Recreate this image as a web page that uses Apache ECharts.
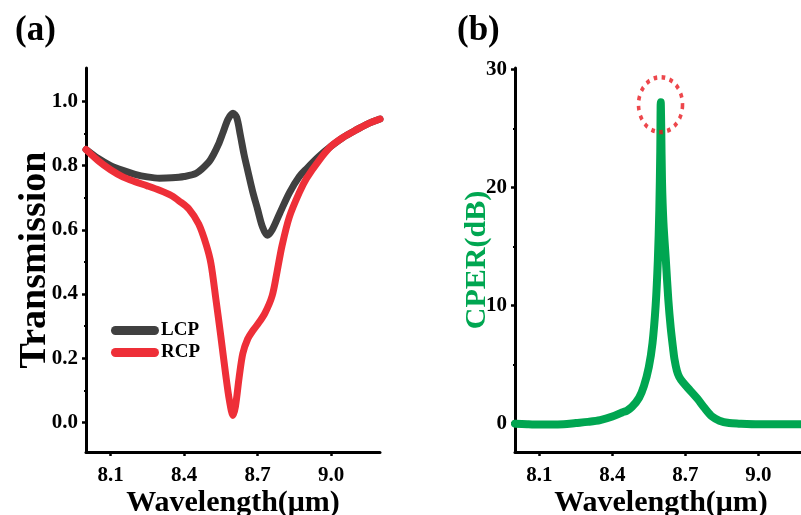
<!DOCTYPE html>
<html>
<head>
<meta charset="utf-8">
<script src="https://cdn.jsdelivr.net/npm/echarts@6/dist/echarts.min.js"></script>
<style>html,body{margin:0;padding:0;background:#fff}#c{width:801px;height:515px}</style>
</head>
<body>
<div id="c"></div>
<script>
// ---- data ----
const lcpWavelength = [8.00,8.05,8.10,8.15,8.20,8.25,8.30,8.35,8.40,8.45,8.50,8.52,8.54,8.56,8.58,8.60,8.615,8.63,8.645,8.66,8.68,8.70,8.72,8.74,8.76,8.79,8.83,8.87,8.90,8.95,9.00,9.05,9.10,9.15,9.20];
const lcpTransmission = [0.850,0.822,0.800,0.785,0.773,0.765,0.761,0.762,0.766,0.776,0.810,0.834,0.865,0.905,0.945,0.963,0.950,0.895,0.835,0.785,0.720,0.665,0.610,0.583,0.600,0.650,0.715,0.765,0.790,0.828,0.860,0.888,0.910,0.930,0.945];
const rcpWavelength = [8.00,8.05,8.10,8.15,8.20,8.25,8.30,8.35,8.38,8.42,8.46,8.49,8.51,8.53,8.55,8.57,8.585,8.60,8.61,8.625,8.64,8.66,8.68,8.70,8.73,8.76,8.78,8.80,8.83,8.87,8.90,8.95,9.00,9.05,9.10,9.15,9.20];
const rcpTransmission = [0.850,0.815,0.787,0.765,0.750,0.737,0.723,0.706,0.690,0.665,0.618,0.555,0.495,0.385,0.270,0.150,0.070,0.022,0.050,0.140,0.215,0.260,0.285,0.305,0.340,0.395,0.470,0.550,0.640,0.715,0.760,0.815,0.860,0.888,0.910,0.930,0.945];
const cperWavelength = [8.00,8.05,8.10,8.15,8.20,8.25,8.30,8.35,8.40,8.44,8.46,8.48,8.51,8.53,8.55,8.565,8.578,8.587,8.593,8.597,8.599,8.601,8.604,8.61,8.62,8.63,8.64,8.65,8.655,8.665,8.675,8.69,8.72,8.75,8.78,8.81,8.84,8.88,8.92,9.00,9.10,9.20];
const cperValue = [0.0,-0.05,-0.08,-0.08,-0.05,0.05,0.15,0.3,0.6,0.95,1.1,1.4,2.2,3.2,4.8,6.8,10.0,13.8,18.0,23.0,27.2,25.0,20.6,17.0,13.8,10.5,8.1,6.3,5.5,4.5,3.95,3.5,2.8,2.1,1.3,0.6,0.25,0.05,0.0,-0.05,-0.05,-0.05];
const peakMark = [[8.598, 27.0]];
const xTicks = [8.1, 8.4, 8.7, 9.0];
const xMinorTicks = [8.25, 8.55, 8.85, 9.15];
const transTicks = [0.0, 0.2, 0.4, 0.6, 0.8, 1.0];
const transMinorTicks = [0.1, 0.3, 0.5, 0.7, 0.9];
const cperTicks = [0, 10, 20, 30];
const cperMinorTicks = [5, 15, 25];
const seriesNames = ['LCP', 'RCP'];

// ---- chart ----
const pair = (xs, ys) => xs.map((x, i) => [x, ys[i]]);
const FONT = '"Liberation Serif", "Times New Roman", serif';
const labelStyle = {color:'#000', fontFamily:FONT, fontWeight:'bold', fontSize:21};
const nameStyle = {color:'#000', fontFamily:FONT, fontWeight:'bold', fontSize:30};

function mainX(grid) {
  return {type:'value', gridIndex:grid, min:8.0, max:9.2, position:'bottom',
    axisLine:{show:true, onZero:false, lineStyle:{color:'#000', width:3}},
    axisTick:{show:true, customValues:xTicks, length:4, lineStyle:{color:'#000', width:2.5}},
    axisLabel:Object.assign({customValues:xTicks, margin:13, formatter:v=>Number(v).toFixed(1)}, labelStyle),
    splitLine:{show:false},
    name:'Wavelength(μm)', nameLocation:'middle', nameGap:36, nameMoveOverlap:false, nameTextStyle:nameStyle};
}
function minorX(grid) {
  return {type:'value', gridIndex:grid, min:8.0, max:9.2, position:'bottom', offset:0,
    axisLine:{show:false, onZero:false}, axisLabel:{show:false}, splitLine:{show:false},
    axisTick:{show:true, customValues:xMinorTicks, length:2, lineStyle:{color:'#000', width:2}}};
}
const option = {
  animation:false,
  backgroundColor:'#fff',
  title:[
    {text:'(a)', left:10, top:8, textStyle:{fontFamily:FONT, fontWeight:'bold', fontSize:35, color:'#000'}},
    {text:'(b)', left:452, top:8, textStyle:{fontFamily:FONT, fontWeight:'bold', fontSize:35, color:'#000'}}
  ],
  grid:[
    {left:86, top:68, width:294, height:384, outerBoundsMode:'none', containLabel:false},
    {left:515, top:68, width:292, height:384, outerBoundsMode:'none', containLabel:false}
  ],
  legend:{
    data:seriesNames, orient:'vertical', left:106, top:316, itemGap:3,
    itemWidth:48, itemHeight:9,
    icon:'path://M4.5,0 H43.5 A4.5,4.5 0 0 1 43.5,9 H4.5 A4.5,4.5 0 0 1 4.5,0 Z',
    textStyle:{fontFamily:FONT, fontWeight:'bold', fontSize:19, color:'#000', padding:[0,0,0,-3]}
  },
  xAxis:[mainX(0), minorX(0), mainX(1), minorX(1)],
  yAxis:[
    {type:'value', gridIndex:0, min:-0.092, max:1.104, position:'left',
      axisLine:{show:true, onZero:false, lineStyle:{color:'#000', width:3}},
      axisTick:{show:true, customValues:transTicks, length:4, lineStyle:{color:'#000', width:2.5}},
      axisLabel:Object.assign({customValues:transTicks, margin:8, formatter:v=>Number(v).toFixed(1)}, labelStyle),
      splitLine:{show:false},
      name:'Transmission', nameLocation:'middle', nameGap:32, nameRotate:90, nameMoveOverlap:false,
      nameTextStyle:Object.assign({}, nameStyle, {fontSize:38})},
    {type:'value', gridIndex:0, min:-0.092, max:1.104, position:'left', offset:0,
      axisLine:{show:false, onZero:false}, axisLabel:{show:false}, splitLine:{show:false},
      axisTick:{show:true, customValues:transMinorTicks, length:2, lineStyle:{color:'#000', width:2}}},
    {type:'value', gridIndex:1, min:-2.4, max:30.1, position:'left',
      axisLine:{show:true, onZero:false, lineStyle:{color:'#000', width:3}},
      axisTick:{show:true, customValues:cperTicks, length:4, lineStyle:{color:'#000', width:2.5}},
      axisLabel:Object.assign({customValues:cperTicks, margin:8}, labelStyle),
      splitLine:{show:false},
      name:'CPER(dB)', nameLocation:'middle', nameGap:23, nameRotate:90, nameMoveOverlap:false,
      nameTextStyle:Object.assign({}, nameStyle, {color:'#00A651'})},
    {type:'value', gridIndex:1, min:-2.4, max:30.1, position:'left', offset:0,
      axisLine:{show:false, onZero:false}, axisLabel:{show:false}, splitLine:{show:false},
      axisTick:{show:true, customValues:cperMinorTicks, length:2, lineStyle:{color:'#000', width:2}}}
  ],
  series:[
    {name:'LCP', type:'line', xAxisIndex:0, yAxisIndex:0, data:pair(lcpWavelength, lcpTransmission),
      showSymbol:false, smooth:0.3, color:'#404040',
      lineStyle:{width:7, color:'#404040', cap:'round', join:'round'}},
    {name:'RCP', type:'line', xAxisIndex:0, yAxisIndex:0, data:pair(rcpWavelength, rcpTransmission),
      showSymbol:false, smooth:0.3, color:'#EE2F38',
      lineStyle:{width:7, color:'#EE2F38', cap:'round', join:'round'}},
    {name:'CPER', type:'line', xAxisIndex:2, yAxisIndex:2, data:pair(cperWavelength, cperValue),
      showSymbol:false, smooth:0.3, color:'#00A651',
      lineStyle:{width:8, color:'#00A651', cap:'round', join:'round'}},
    {name:'peak', type:'scatter', xAxisIndex:2, yAxisIndex:2, data:peakMark, z:5,
      symbol:'circle', symbolSize:[44,55], silent:true,
      itemStyle:{color:'rgba(0,0,0,0)', borderColor:'#E8191F', borderWidth:4, borderType:[4,5]}}
  ]
};
const chart = echarts.init(document.getElementById('c'), null, {renderer:'canvas'});
chart.setOption(option);
</script>
</body>
</html>
